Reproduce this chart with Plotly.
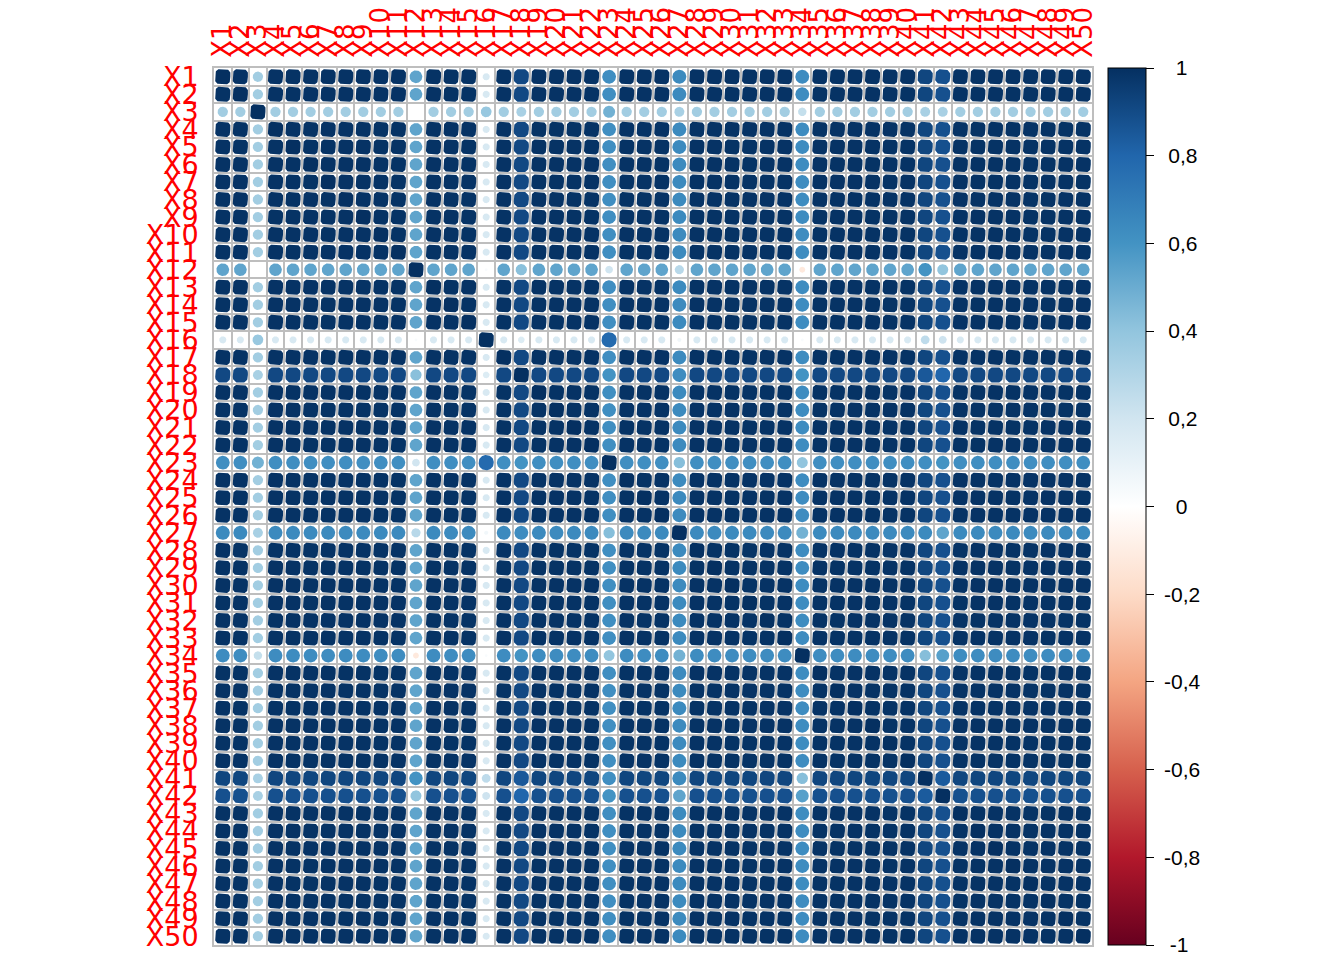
import numpy as np
import plotly.graph_objects as go

# ---------------- data ----------------
variables = [f"X{i}" for i in range(1, 51)]

# correlation of each variable with the "typical" (dark navy) variables
typical_corr = [
    0.99, 0.99, 0.35, 0.99, 0.99, 0.99, 0.99, 0.99, 0.99, 0.99,
    0.99, 0.53, 0.99, 0.99, 0.99, 0.17, 0.99, 0.91, 0.99, 0.99,
    0.99, 0.99, 0.62, 0.99, 0.99, 0.99, 0.64, 0.99, 0.99, 0.99,
    0.99, 0.99, 0.99, 0.63, 0.99, 0.99, 0.99, 0.99, 0.99, 0.99,
    0.92, 0.88, 0.99, 0.99, 0.99, 0.99, 0.99, 0.99, 0.99, 0.99,
]

# correlations between the non-typical variables
pair_a = ["X3", "X3", "X3", "X3", "X3", "X3", "X3", "X3",
          "X12", "X12", "X12", "X12", "X12", "X12", "X12",
          "X16", "X16", "X16", "X16", "X16", "X16",
          "X18", "X18", "X18", "X18", "X18",
          "X23", "X23", "X23", "X23",
          "X27", "X27", "X27",
          "X34", "X34",
          "X41"]
pair_b = ["X12", "X16", "X18", "X23", "X27", "X34", "X41", "X42",
          "X16", "X18", "X23", "X27", "X34", "X41", "X42",
          "X18", "X23", "X27", "X34", "X41", "X42",
          "X23", "X27", "X34", "X41", "X42",
          "X27", "X34", "X41", "X42",
          "X34", "X41", "X42",
          "X41", "X42",
          "X42"]
pair_r = [0.00, 0.38, 0.33, 0.48, 0.33, 0.24, 0.33, 0.33,
          0.03, 0.42, 0.20, 0.28, -0.12, 0.60, 0.40,
          0.15, 0.78, 0.06, 0.03, 0.26, 0.21,
          0.60, 0.63, 0.60, 0.85, 0.80,
          0.43, 0.40, 0.62, 0.60,
          0.48, 0.64, 0.53,
          0.43, 0.55,
          0.84]

colorbar_ticks = [-1, -0.8, -0.6, -0.4, -0.2, 0, 0.2, 0.4, 0.6, 0.8, 1]
colorbar_labels = ["-1", "-0,8", "-0,6", "-0,4", "-0,2", "0", "0,2", "0,4", "0,6", "0,8", "1"]

# ---------------- build matrix ----------------
N = len(variables)
pos = {v: k for k, v in enumerate(variables)}
M = np.empty((N, N))
for i in range(N):
    for j in range(N):
        M[i, j] = min(typical_corr[i], typical_corr[j])
for a, b, r in zip(pair_a, pair_b, pair_r):
    M[pos[a], pos[b]] = r
    M[pos[b], pos[a]] = r
np.fill_diagonal(M, 1.0)

# ---------------- colour palette (RdBu, as corrplot) ----------------
stops = ["#67001F", "#B2182B", "#D6604D", "#F4A582", "#FDDBC7", "#FFFFFF",
         "#D1E5F0", "#92C5DE", "#4393C3", "#2166AC", "#053061"]
colorscale = [[k / 10, c] for k, c in enumerate(stops)]
stop_rgb = np.array([[int(c[1:3], 16), int(c[3:5], 16), int(c[5:7], 16)] for c in stops], float)


def value_color(v):
    t = (v + 1) / 2 * 10
    k = min(int(np.floor(t)), 9)
    f = t - k
    rgb = stop_rgb[k] * (1 - f) + stop_rgb[k + 1] * f
    return "rgb(%d,%d,%d)" % tuple(np.round(rgb).astype(int))


# ---------------- marks: circles (area ~ |r|) clipped to the cell ----------------
theta = np.linspace(0, 2 * np.pi, 97)
half = 0.43
groups = {}
for i in range(N):
    for j in range(N):
        r = M[i, j]
        rad = 0.5 * np.sqrt(abs(r))
        if rad <= 0:
            continue
        xs = (j + 1) + np.clip(rad * np.cos(theta), -half, half)
        ys = (i + 1) + np.clip(rad * np.sin(theta), -half, half)
        key = round(float(r), 3)
        gx, gy = groups.setdefault(key, ([], []))
        gx.extend(xs.tolist() + [None])
        gy.extend(ys.tolist() + [None])

fig = go.Figure()
for key in sorted(groups):
    gx, gy = groups[key]
    fig.add_trace(go.Scatter(
        x=gx, y=gy, mode="lines", fill="toself",
        fillcolor=value_color(key), line=dict(width=0),
        hoverinfo="skip", showlegend=False,
    ))


# centre the colour-bar labels (as in the reference) with non-breaking spaces
def centred(label):
    pad = {1: "\u00a0\u00a0\u00a0", 2: "\u00a0\u00a0", 3: "\u00a0\u2009", 4: "\u00a0"}
    return pad[len(label)] + label


# colour bar carrier
fig.add_trace(go.Scatter(
    x=[1], y=[1], mode="markers", hoverinfo="skip", showlegend=False,
    marker=dict(
        size=1, opacity=0, color=[0], cmin=-1, cmax=1, colorscale=colorscale,
        showscale=True,
        colorbar=dict(
            thickness=38, thicknessmode="pixels", len=1, lenmode="fraction",
            y=0.5, yanchor="middle", x=1.0182, xanchor="left", xpad=0, ypad=0,
            outlinewidth=1, outlinecolor="black",
            tickmode="array", tickvals=colorbar_ticks,
            ticktext=[centred(t) for t in colorbar_labels],
            ticks="outside", ticklen=8, tickwidth=1, tickcolor="black",
            tickfont=dict(family="Liberation Sans, Arial", size=21, color="black"),
        ),
    ),
))

x_label_font = dict(family="DejaVu Sans", size=26, color="red")
y_label_font = dict(family="DejaVu Sans", size=27, color="red")
cells = np.arange(1, N + 1)
edges = np.arange(0.5, N + 1, 1.0)

fig.update_xaxes(
    range=[0.5, N + 0.5], side="top", tickmode="array", tickvals=cells,
    ticktext=variables, tickangle=-90, tickfont=x_label_font, ticks="",
    ticklabelstandoff=3, showgrid=False, zeroline=False,
    minor=dict(tickmode="array", tickvals=edges, showgrid=True,
               gridcolor="#BEBEBE", gridwidth=2, ticks=""),
    showline=True, mirror=True, linecolor="#BEBEBE", linewidth=2,
    fixedrange=True,
)
fig.update_yaxes(
    range=[N + 0.5, 0.5], tickmode="array", tickvals=cells,
    ticktext=variables, tickfont=y_label_font, ticks="",
    ticklabelstandoff=8, showgrid=False, zeroline=False,
    minor=dict(tickmode="array", tickvals=edges, showgrid=True,
               gridcolor="#BEBEBE", gridwidth=2, ticks=""),
    showline=True, mirror=True, linecolor="#BEBEBE", linewidth=2,
    fixedrange=True,
)

# the page body adds an 8 px margin, so the figure is 8 px smaller on each side
fig.update_layout(
    width=1336, height=952,
    margin=dict(l=206, r=252, t=60, b=15, autoexpand=False),
    paper_bgcolor="white", plot_bgcolor="white",
    showlegend=False,
)

fig.write_html("out.html")
